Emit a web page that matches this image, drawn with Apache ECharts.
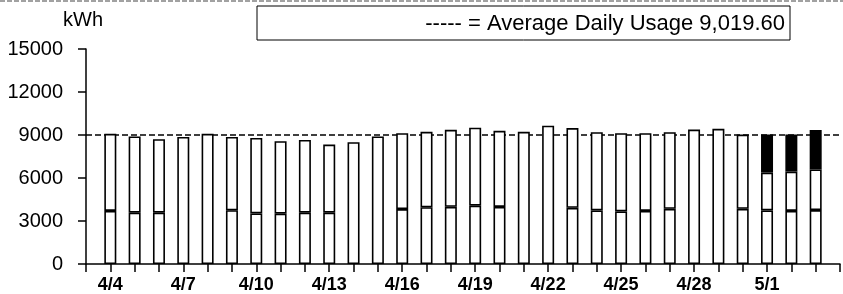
<!DOCTYPE html>
<html>
<head>
<meta charset="utf-8">
<script src="https://cdn.jsdelivr.net/npm/echarts@6/dist/echarts.min.js"></script>
<style>
  html, body { margin: 0; padding: 0; background: #fff; }
  #chart { width: 843px; height: 294px; }
</style>
</head>
<body>
<div id="chart"></div>
<script>
// blank slot at each end so the bars sit on ticks like the original
const days = ['', '4/4', '4/5', '4/6', '4/7', '4/8', '4/9', '4/10', '4/11', '4/12', '4/13',
  '4/14', '4/15', '4/16', '4/17', '4/18', '4/19', '4/20', '4/21', '4/22', '4/23',
  '4/24', '4/25', '4/26', '4/27', '4/28', '4/29', '4/30', '5/1', '5/2', '5/3', '']

// lower segment (whole bar on weekends)
const lowerPart = [null, 3700, 3580, 3580, 8860, 9080, 3750, 3530, 3510, 3580, 3580,
  8500, 8900, 3830, 3960, 3990, 4070, 3980, 9220, 9650, 3920,
  3740, 3670, 3700, 3850, 9380, 9430, 3850, 3740, 3700, 3760, null]

// upper segment on weekdays
const upperPart = [null, 5380, 5320, 5130, null, null, 5110, 5260, 5060, 5070, 4750,
  null, null, 5300, 5260, 5370, 5440, 5310, null, null, 5560,
  5460, 5460, 5430, 5350, null, null, 5180, 2640, 2750, 2840, null]

// black top segment on the last days
const blackPart = [null, null, null, null, null, null, null, null, null, null, null,
  null, null, null, null, null, null, null, null, null, null,
  null, null, null, null, null, null, null, 2660, 2590, 2750, null]

const avgUsage = 9019.6

const font = "'Liberation Sans', Arial, sans-serif"
const chart = echarts.init(document.getElementById('chart'))

const barStyle = {
  color: '#fff',
  borderColor: '#000',
  borderWidth: 1.6,
}

chart.setOption({
  animation: false,
  backgroundColor: '#fff',
  grid: {
    left: 86,
    right: -6,
    top: 49,
    bottom: 27,
  },
  xAxis: {
    type: 'category',
    data: days,
    boundaryGap: false,
    axisLine: { lineStyle: { color: '#000', width: 1.5 } },
    axisTick: {
      interval: 0,
      length: 8,
      lineStyle: { color: '#000', width: 1.5 },
    },
    axisLabel: {
      interval: (idx) => idx % 3 === 1,
      color: '#000',
      fontFamily: font,
      fontSize: 18,
      fontWeight: 'bold',
      margin: 12,
    },
  },
  yAxis: {
    type: 'value',
    min: 0,
    max: 15000,
    interval: 3000,
    name: 'kWh',
    nameGap: 19,
    nameTextStyle: {
      color: '#000',
      fontFamily: font,
      fontSize: 20,
      padding: [0, 6, 0, 0],
    },
    splitLine: { show: false },
    axisLine: { show: true, lineStyle: { color: '#000', width: 1.5 } },
    axisTick: {
      show: true,
      length: 8,
      lineStyle: { color: '#000', width: 1.5 },
    },
    axisLabel: {
      color: '#000',
      fontFamily: font,
      fontSize: 20,
      margin: 23,
      formatter: (v) => String(v),
    },
  },
  graphic: [
    {
      type: 'line',
      shape: { x1: 0, y1: 1, x2: 843, y2: 1 },
      style: { stroke: '#444', lineWidth: 1, lineDash: [5, 2] },
    },
    {
      type: 'rect',
      shape: { x: 257, y: 6, width: 533, height: 34 },
      style: { fill: '#fff', stroke: '#000', lineWidth: 1 },
    },
    {
      type: 'text',
      x: 785,
      y: 24,
      style: {
        text: '----- = Average Daily Usage 9,019.60',
        align: 'right',
        verticalAlign: 'middle',
        font: '22px ' + font,
        fill: '#000',
      },
    },
  ],
  series: [
    {
      name: 'lower',
      type: 'bar',
      stack: 'usage',
      barWidth: 12,
      data: lowerPart,
      itemStyle: barStyle,
      markLine: {
        silent: true,
        symbol: 'none',
        z: 1,
        label: { show: false },
        lineStyle: { color: '#000', type: [6, 3], width: 1.5 },
        data: [{ yAxis: avgUsage }],
      },
    },
    {
      name: 'upper',
      type: 'bar',
      stack: 'usage',
      barWidth: 12,
      data: upperPart,
      itemStyle: barStyle,
    },
    {
      name: 'black',
      type: 'bar',
      stack: 'usage',
      barWidth: 12,
      data: blackPart,
      itemStyle: { color: '#000', borderColor: '#000', borderWidth: 1.6 },
    },
  ],
})
</script>
</body>
</html>
